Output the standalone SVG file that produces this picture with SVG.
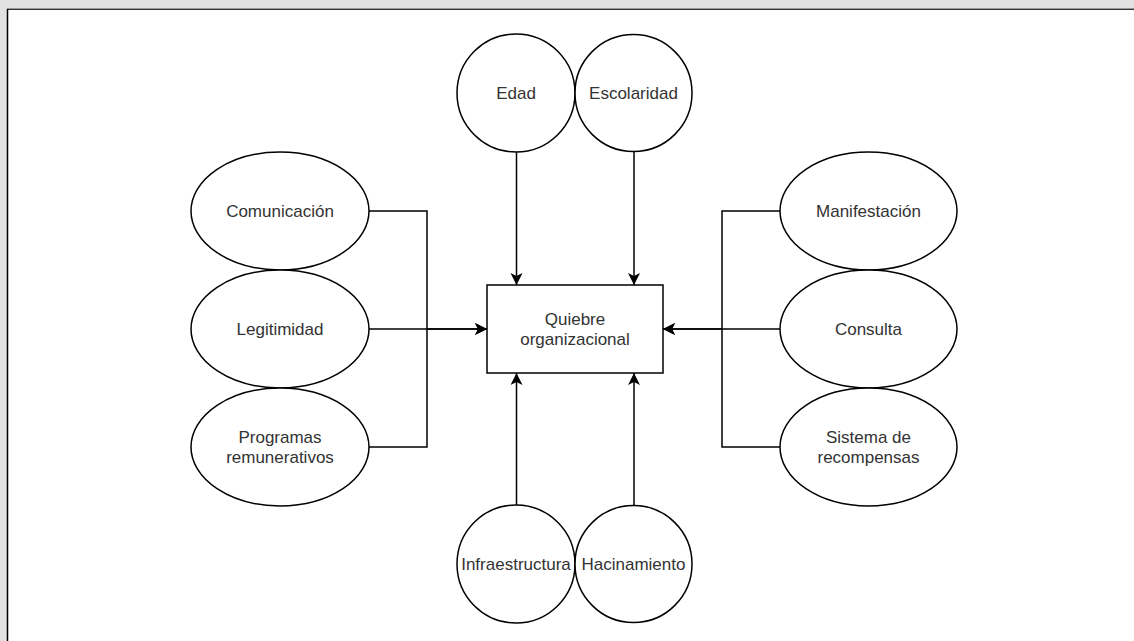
<svg xmlns="http://www.w3.org/2000/svg" width="1134" height="641" viewBox="0 0 1134 641">
<style>
.n{fill:#fff;stroke:#000;stroke-width:1.5}
.t{font-family:"Liberation Sans",Arial,sans-serif;font-size:17px;fill:#333;text-anchor:middle}
.c{fill:none;stroke:#000;stroke-width:1.5}
</style>
<defs>
<marker id="a" markerWidth="14" markerHeight="14" refX="12" refY="6" orient="auto" markerUnits="userSpaceOnUse">
<path d="M0,0 L12,6 L0,12 L3,6 Z" fill="#000"/>
</marker>
</defs>
<rect x="0" y="0" width="1134" height="641" fill="#e2e2e2"/>
<rect x="7.5" y="9" width="1127" height="632" fill="#fff"/>
<line x1="7" y1="8.5" x2="1134" y2="8.5" stroke="#999" stroke-width="1"/>
<line x1="7" y1="9.5" x2="1134" y2="9.5" stroke="#333" stroke-width="1"/>
<line x1="7.5" y1="9" x2="7.5" y2="641" stroke="#000" stroke-width="1.5"/>
<g id="connectors">
<path class="c" d="M516.5,152 V285" marker-end="url(#a)"/>
<path class="c" d="M634,152 V285" marker-end="url(#a)"/>
<path class="c" d="M516.5,505 V373" marker-end="url(#a)"/>
<path class="c" d="M634,505 V373" marker-end="url(#a)"/>
<path class="c" d="M369,211 H427 V329 H487" marker-end="url(#a)"/>
<path class="c" d="M369,329 H487" marker-end="url(#a)"/>
<path class="c" d="M369,447 H427 V329"/>
<path class="c" d="M780,211 H722 V329 H663" marker-end="url(#a)"/>
<path class="c" d="M780,329 H663" marker-end="url(#a)"/>
<path class="c" d="M780,447 H722 V329"/>
</g>
<g id="quiebre"><rect class="n" x="487" y="285" width="176" height="88"/><text class="t" x="575" y="325">Quiebre</text><text class="t" x="575" y="345">organizacional</text></g>
<g id="edad"><circle class="n" cx="516" cy="93" r="59"/><text class="t" x="516" y="99">Edad</text></g>
<g id="escolaridad"><circle class="n" cx="633.5" cy="93" r="58.5"/><text class="t" x="633.5" y="99">Escolaridad</text></g>
<g id="infraestructura"><circle class="n" cx="516" cy="564" r="59"/><text class="t" x="516" y="570">Infraestructura</text></g>
<g id="hacinamiento"><circle class="n" cx="633.5" cy="564" r="58.5"/><text class="t" x="633.5" y="570">Hacinamiento</text></g>
<g id="comunicacion"><ellipse class="n" cx="280" cy="211" rx="89" ry="59"/><text class="t" x="280" y="217">Comunicación</text></g>
<g id="legitimidad"><ellipse class="n" cx="280" cy="329" rx="89" ry="59"/><text class="t" x="280" y="335">Legitimidad</text></g>
<g id="programas"><ellipse class="n" cx="280" cy="447" rx="89" ry="59"/><text class="t" x="280" y="443">Programas</text><text class="t" x="280" y="463">remunerativos</text></g>
<g id="manifestacion"><ellipse class="n" cx="868.5" cy="211" rx="88.5" ry="59"/><text class="t" x="868.5" y="217">Manifestación</text></g>
<g id="consulta"><ellipse class="n" cx="868.5" cy="329" rx="88.5" ry="59"/><text class="t" x="868.5" y="335">Consulta</text></g>
<g id="sistema"><ellipse class="n" cx="868.5" cy="447" rx="88.5" ry="59"/><text class="t" x="868.5" y="443">Sistema de</text><text class="t" x="868.5" y="463">recompensas</text></g>
</svg>
